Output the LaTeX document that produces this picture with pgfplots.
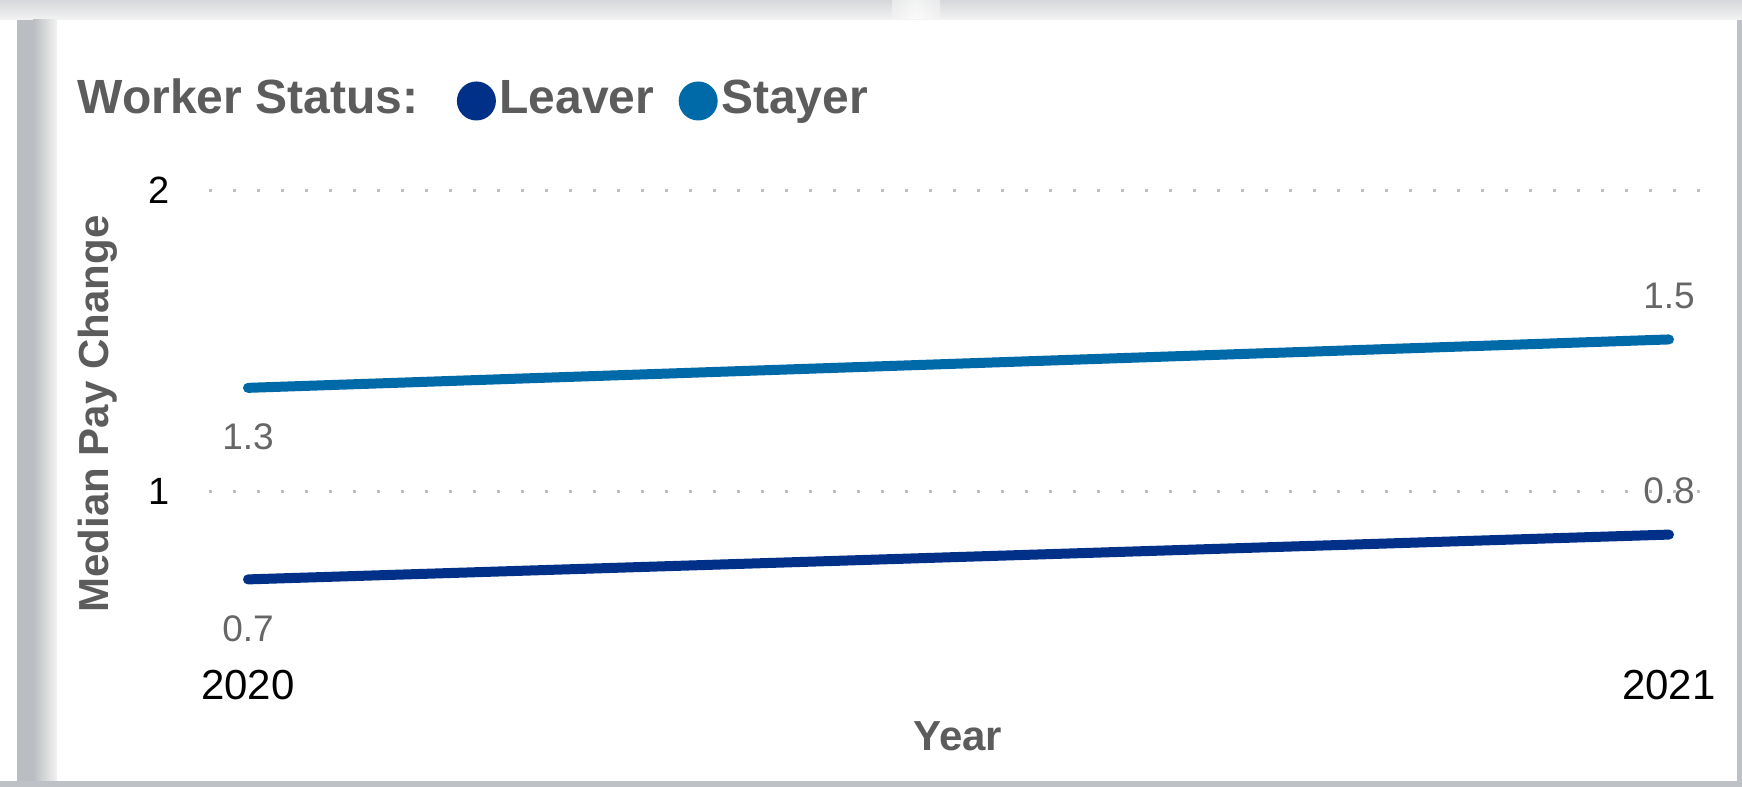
\documentclass[border=0pt]{standalone}
\usepackage{fontspec}
\setmainfont{Liberation Sans}
\usepackage{pgfplots}
\pgfplotsset{compat=1.18}
\definecolor{leaver}{RGB}{0,48,135}
\definecolor{stayer}{RGB}{0,105,167}
\definecolor{labgray}{RGB}{102,102,102}
\definecolor{titlegray}{RGB}{92,92,92}
\definecolor{gridgray}{RGB}{190,190,190}
\definecolor{framegray}{RGB}{190,193,197}
\definecolor{stripegray}{RGB}{186,189,193}
\definecolor{topdark}{RGB}{213,215,218}
\definecolor{toplight}{RGB}{242,242,242}
\begin{document}
\begin{tikzpicture}
\useasboundingbox (0,0) rectangle (871pt,393.5pt);
\fill[white] (0,0) rectangle (871pt,393.5pt);
\shade[top color=topdark, bottom color=toplight] (0,384pt) rectangle (871pt,393.5pt);
\shade[left color=toplight, right color=toplight, middle color=white, opacity=0.7] (446pt,384pt) rectangle (470pt,393.5pt);
\fill[toplight] (0,383.5pt) rectangle (871pt,384pt);
\fill[stripegray] (8.5pt,0) rectangle (16.5pt,383.5pt);
\shade[left color=stripegray, right color=toplight] (16.5pt,0) rectangle (28.5pt,383.5pt);
\fill[framegray] (868.5pt,0) rectangle (871pt,383.5pt);
\fill[framegray] (0,0) rectangle (871pt,3pt);
\begin{axis}[
  at={(104.5pt,66pt)}, anchor=south west,
  scale only axis, width=745.5pt, height=232.2pt,
  xmin=-0.02745, xmax=1.02182,
  ymin=0.4556, ymax=2,
  axis line style={draw=none},
  major tick length=0pt,
  xtick={0,1}, xticklabels={2020,2021},
  ytick={1,2}, yticklabels={1,2},
  xticklabel style={anchor=base, inner sep=0pt, yshift=-22.5pt, font=\fontsize{21}{25}\selectfont, text=black},
  yticklabel style={anchor=east, inner sep=0pt, xshift=-19.5pt, font=\fontsize{19}{23}\selectfont, text=black},
  ymajorgrids, xmajorgrids=false,
  grid style={gridgray, line width=1.7pt, dash pattern=on 1.7pt off 10.3pt},
  xlabel={Year}, ylabel={Median Pay Change},
  xlabel style={at={(axis description cs:0.5023,-0.2046)}, anchor=base, font=\fontsize{21}{25}\selectfont\bfseries, text=titlegray},
  ylabel style={at={(axis description cs:-0.0677,0.519)}, anchor=base, font=\fontsize{21}{25}\selectfont\bfseries, text=titlegray},
  legend columns=-1,
  legend style={at={(axis description cs:-0.0880,1.2403)}, anchor=north west, draw=none, fill=none, inner sep=0pt, outer sep=0pt,
    font=\fontsize{24}{28}\selectfont\bfseries, text=titlegray,
    nodes={inner sep=0pt, anchor=base west}, column sep=0pt},
  legend image code/.code={\fill[draw=none] (9.75pt,6.4pt) circle (9.75pt); \path[draw=none] (0pt,0pt) -- (21.2pt,0pt);},
  nodes near coords,
  point meta=explicit symbolic,
  visualization depends on={value \thisrow{sh} \as \sh},
  every node near coord/.style={anchor=base, inner sep=0pt, yshift=\sh pt, font=\fontsize{18.5}{22}\selectfont, text=labgray},
]
\addlegendimage{empty legend}
\addlegendentry{Worker Status:\rule{19.3pt}{0pt}}
\addplot[color=leaver, line width=5pt, line cap=round, line join=round, mark=none]
  table[x=x, y=y, meta=lab] {
x y lab sh
0 0.707 0.7 -31
1 0.856 0.8 15.5
};
\addlegendentry{Leaver\rule{12.3pt}{0pt}}
\addplot[color=stayer, line width=5pt, line cap=round, line join=round, mark=none]
  table[x=x, y=y, meta=lab] {
x y lab sh
0 1.344 1.3 -31
1 1.505 1.5 15.5
};
\addlegendentry{Stayer}
\end{axis}
\end{tikzpicture}
\end{document}
